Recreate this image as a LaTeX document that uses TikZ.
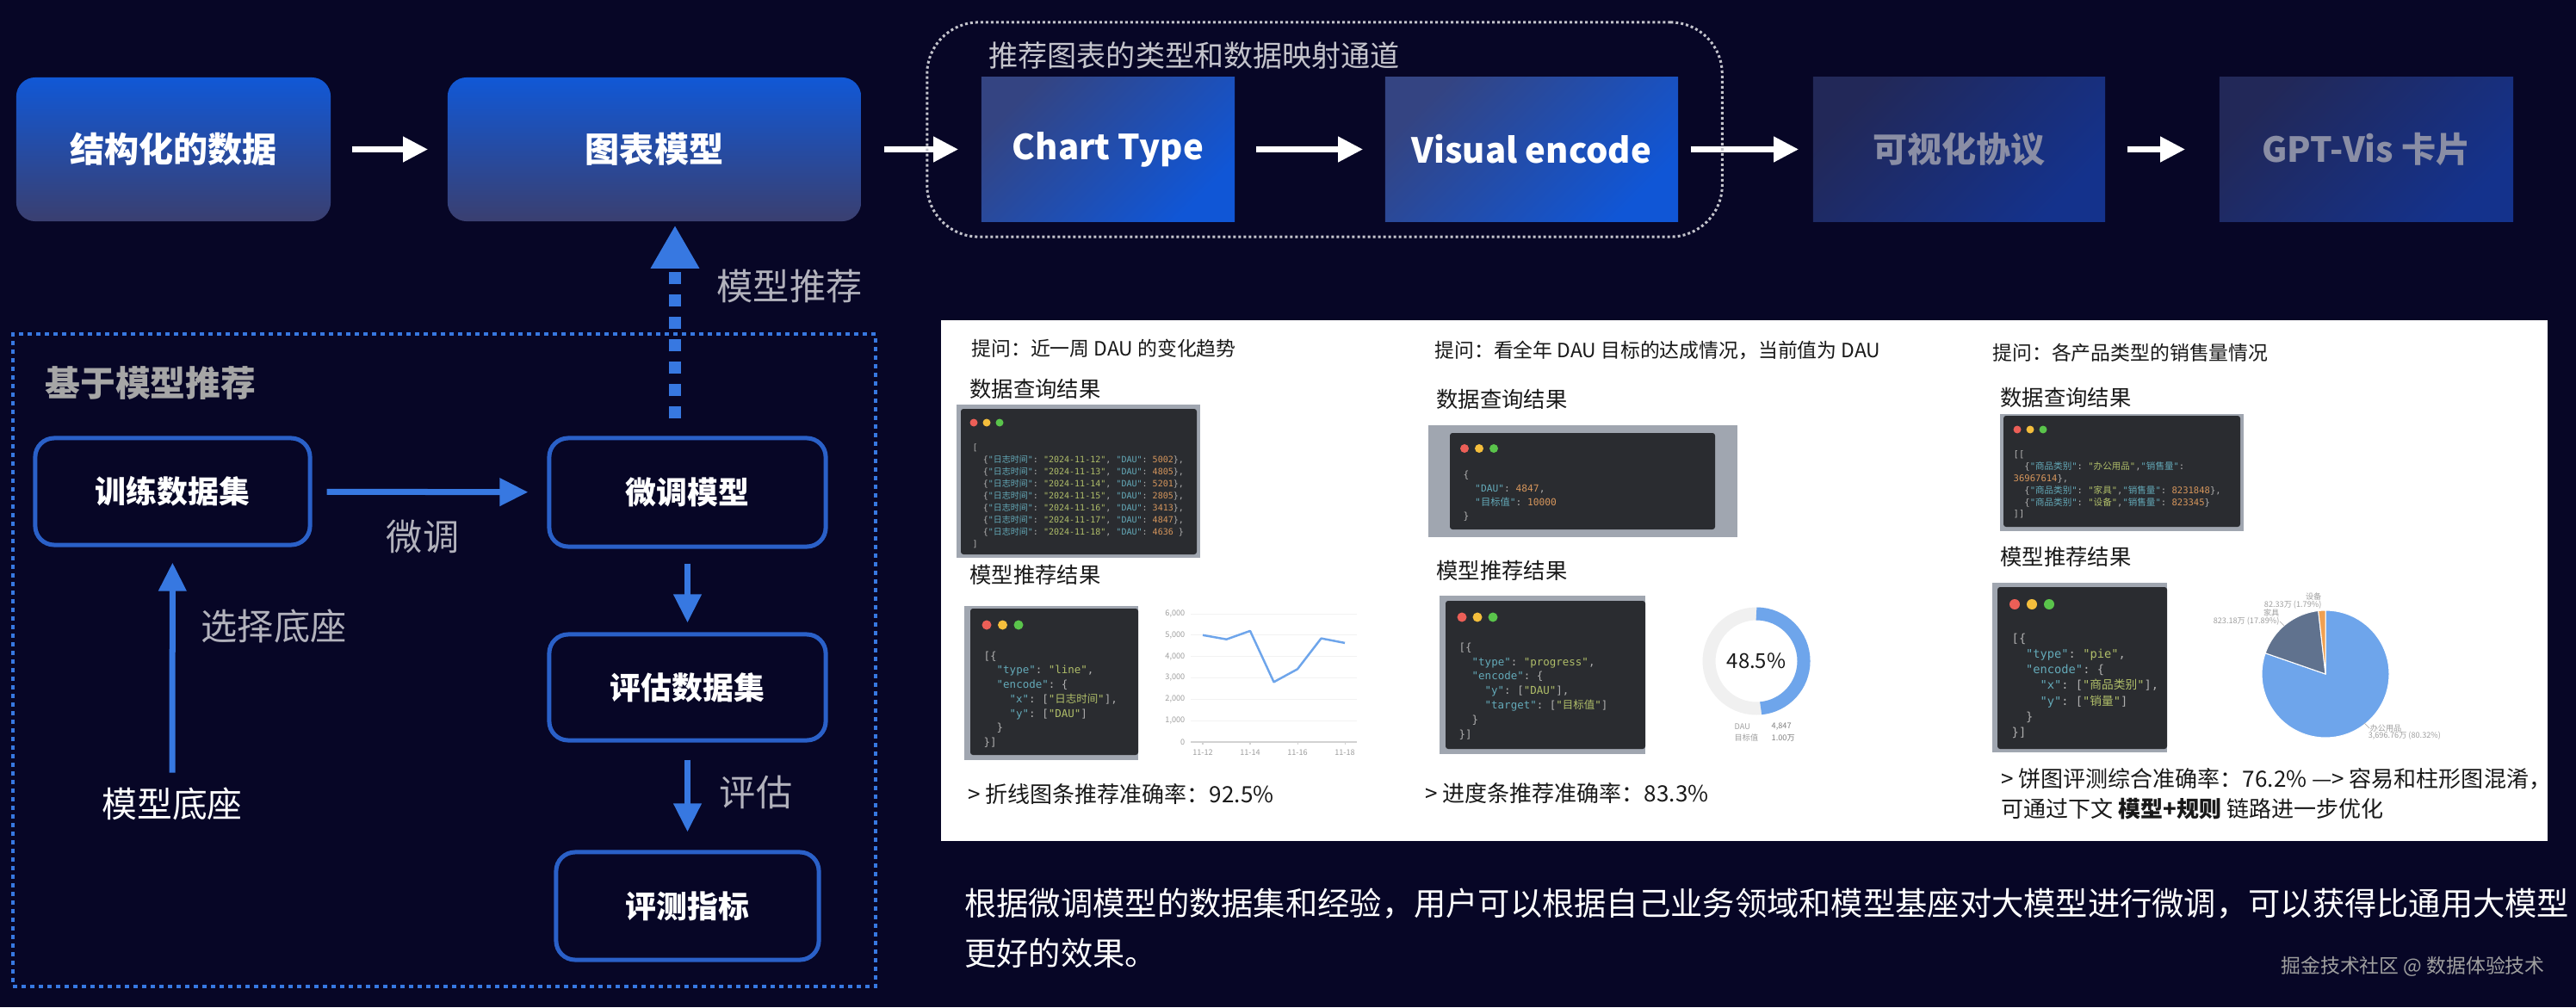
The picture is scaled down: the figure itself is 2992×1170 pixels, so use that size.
\documentclass[tikz,border=0pt]{standalone}
\usepackage{fontspec}
\setmainfont{Noto Sans CJK SC}
\setmonofont{DejaVu Sans Mono}
\newfontfamily\cjk{Noto Sans CJK SC}
\usepackage{tikz}
\usetikzlibrary{arrows.meta, positioning, calc}

\definecolor{bgc}{RGB}{7,6,38}
\definecolor{boxtop}{RGB}{17,88,214}
\definecolor{boxbot}{RGB}{58,63,112}
\definecolor{enclite}{RGB}{52,68,130}
\definecolor{encdeep}{RGB}{16,86,214}
\definecolor{dimlite}{RGB}{34,40,88}
\definecolor{dimdeep}{RGB}{20,50,140}
\definecolor{dimtxt}{RGB}{138,142,165}
\definecolor{bluel}{RGB}{55,120,225}
\definecolor{edgeb}{RGB}{42,96,200}
\definecolor{lblg}{RGB}{178,178,188}
\definecolor{grpt}{RGB}{196,196,204}
\definecolor{winbg}{RGB}{42,44,48}
\definecolor{winfr}{RGB}{160,166,176}
\definecolor{wred}{RGB}{236,95,87}
\definecolor{wyel}{RGB}{244,190,60}
\definecolor{wgrn}{RGB}{90,196,75}
\definecolor{cpun}{RGB}{175,175,175}
\definecolor{ckey}{RGB}{100,170,185}
\definecolor{cstr}{RGB}{176,190,105}
\definecolor{cnum}{RGB}{214,150,92}
\definecolor{chartb}{RGB}{110,165,235}
\definecolor{pieg}{RGB}{96,114,142}
\definecolor{pieo}{RGB}{240,160,80}
\definecolor{ptxt}{RGB}{25,25,25}

\newcommand{\fsz}[2]{\fontsize{#1}{#2}\selectfont}
\newcommand{\jk}[1]{\textcolor{ckey}{#1}}
\newcommand{\js}[1]{\textcolor{cstr}{#1}}
\newcommand{\jn}[1]{\textcolor{cnum}{#1}}
\newcommand{\codeind}{\hspace*{1.2em}}
\newcommand{\dline}[2]{\codeind\{\jk{"{\cjk 日志时间}"}: \js{"#1"}, \jk{"DAU"}: \jn{#2}\}}

\begin{document}
\begin{tikzpicture}[
    x=0.01cm, y=-0.01cm,
    topbox/.style={rounded corners=0.22cm, minimum height=1.67cm, text=white,
                   top color=boxtop, bottom color=boxbot,
                   font=\bfseries\fsz{11.4pt}{13pt}},
    encbox/.style={minimum height=1.67cm, text=white,
                   top color=enclite, bottom color=encdeep, shading angle=45,
                   font=\bfseries\fsz{11.4pt}{13pt}},
    dimbox/.style={encbox, top color=dimlite, bottom color=dimdeep, shading angle=45,
                   text=dimtxt},
    stepbox/.style={draw=edgeb, line width=0.05cm, rounded corners=0.22cm, fill=bgc,
                    text=white, font=\bfseries\fsz{10.2pt}{12pt}},
    lbl/.style={text=lblg, font=\fsz{12pt}{14pt}},
    arrw/.style={-{Triangle[length=0.29cm, width=0.28cm]}, white, line width=0.07cm},
    arrb/.style={-{Triangle[length=0.33cm, width=0.31cm]}, bluel, line width=0.07cm},
    dotarr/.style={-{Triangle[length=0.5cm, width=0.53cm]}, bluel, line width=0.14cm,
                   dash pattern=on 0.14cm off 0.12cm},
    phead/.style={text=ptxt, anchor=west, font=\fsz{7.2pt}{9pt}},
    pask/.style={text=ptxt, anchor=west, font=\fsz{6.5pt}{8pt}},
    pacc/.style={text=ptxt, anchor=west, font=\fsz{7.4pt}{9pt}},
    code/.style={anchor=north west, inner sep=0pt, align=left, text=cpun},
    tiny/.style={text=gray!75, inner sep=0pt, font=\fsz{2.6pt}{3pt}},
  ]
  \useasboundingbox (0,0) rectangle (2992,1170);
  \fill[bgc] (0,0) rectangle (2992,1170);

  % top pipeline
  \node[topbox, minimum width=3.65cm] (data) at (201.5,173.5) {结构化的数据};
  \node[topbox, minimum width=4.8cm] (model) at (760,173.5) {图表模型};
  \node[encbox, minimum width=2.94cm] (ctype) at (1287,173.5) {Chart Type};
  \node[encbox, minimum width=3.4cm] (venc) at (1779,173.5) {Visual encode};
  \node[dimbox, minimum width=3.39cm] (proto) at (2275.5,173.5) {可视化协议};
  \node[dimbox, minimum width=3.41cm] (card) at (2748.5,173.5) {GPT-Vis 卡片};
  \draw[arrw, shorten <=0.24cm, shorten >=0.22cm] (data) -- (model);
  \draw[arrw, shorten <=0.26cm, shorten >=0.26cm] (model) -- (ctype);
  \draw[arrw, shorten <=0.24cm, shorten >=0.25cm] (ctype) -- (venc);
  \draw[arrw, shorten <=0.14cm, shorten >=0.16cm] (venc) -- (proto);
  \draw[arrw, shorten <=0.25cm, shorten >=0.39cm] (proto) -- (card);
  \node[draw=grpt, line width=0.03cm, dash pattern=on 0.03cm off 0.03cm,
        rounded corners=0.6cm, minimum width=9.23cm, minimum height=2.49cm]
    (grp) at (1538.5,150.5) {};
  \node[anchor=west, text=grpt, font=\fsz{9.7pt}{11pt}] (grptitle) at (1136,65)
    {推荐图表的类型和数据映射通道};

  % fine-tuning block
  \node[draw=bluel, line width=0.04cm, dash pattern=on 0.05cm off 0.05cm,
        minimum width=10.02cm, minimum height=7.58cm] (ftgrp) at (516,767) {};
  \node[anchor=west, text=gray!70, font=\bfseries\fsz{11.6pt}{13pt}] (fttitle) at (40,445)
    {基于模型推荐};
  \node[stepbox, minimum width=3.19cm, minimum height=1.24cm] (train) at (200.5,571) {训练数据集};
  \node[stepbox, minimum width=3.21cm, minimum height=1.26cm] (ft) at (798.5,572) {微调模型};
  \node[stepbox, minimum width=3.21cm, minimum height=1.23cm] (evalset) at (798.5,798.5) {评估数据集};
  \node[stepbox, minimum width=3.05cm, minimum height=1.25cm] (metric) at (798.5,1052.5) {评测指标};
  \node[text=white, font=\fsz{11.6pt}{13pt}] (base) at (200,934) {模型底座};
  \draw[arrb, shorten <=0.17cm, shorten >=0.22cm] (train) -- (ft);
  \draw[arrb, shorten <=0.17cm, shorten >=0.11cm] (ft) -- (evalset);
  \draw[arrb, shorten <=0.2cm, shorten >=0.21cm] (evalset) -- (metric);
  \draw[arrb, shorten <=0.05cm, shorten >=0.18cm] (base) -- (train);
  \draw[dotarr, shorten <=0.2cm, shorten >=0.04cm]
    ([xshift=-0.145cm]ft.north) -- ([xshift=-0.145cm]ft.north |- model.south);
  \node[lbl] (lrec) at (917,332) {模型推荐};
  \node[lbl] (ltune) at (491,623) {微调};
  \node[lbl] (lpick) at (318,727) {选择底座};
  \node[lbl] (leval) at (878,920) {评估};

  % examples panel
  \fill[white] (1093,372) rectangle (2959,977);

  % column 1: line chart
  \node[pask] (ask1) at (1116,405) {提问：近一周 DAU 的变化趋势};
  \node[phead] (qh1) at (1114,452) {数据查询结果};
  \fill[winfr] (1111,470) rectangle (1394,648);
  \fill[winbg, rounded corners=0.03cm] (1116,475) rectangle (1390,644);
  \foreach \c [count=\i from 0] in {wred, wyel, wgrn}
    \fill[\c] (1131+15*\i,491) circle (4.5);
  \node[code, font=\ttfamily\fsz{2.85pt}{3.98pt}] (q1code) at (1129,515) {%
    [\\
    \dline{2024-11-12}{5002},\\
    \dline{2024-11-13}{4805},\\
    \dline{2024-11-14}{5201},\\
    \dline{2024-11-15}{2805},\\
    \dline{2024-11-16}{3413},\\
    \dline{2024-11-17}{4847},\\
    \dline{2024-11-18}{4636 }\\
    ]};
  \node[phead] (rh1) at (1114,668) {模型推荐结果};
  \fill[winfr] (1120,704) rectangle (1322,883);
  \fill[winbg, rounded corners=0.03cm] (1127,707) rectangle (1322,877);
  \foreach \c [count=\i from 0] in {wred, wyel, wgrn}
    \fill[\c] (1146+18.5*\i,726) circle (5.5);
  \node[code, font=\ttfamily\fsz{3.55pt}{4.75pt}] (r1code) at (1142,756) {%
    [\{\\
    \codeind\jk{"type"}: \js{"line"},\\
    \codeind\jk{"encode"}: \{\\
    \codeind\codeind\jk{"x"}: [\js{"{\cjk 日志时间}"}],\\
    \codeind\codeind\jk{"y"}: [\js{"DAU"}]\\
    \codeind\}\\
    \}]};
  \foreach \v in {1,...,6}
    \draw[gray!10, line width=0.3pt] (1383,862-24.83*\v) -- (1576,862-24.83*\v);
  \draw[gray!35, line width=0.3pt] (1383,862) -- (1576,862);
  \foreach \v/\t in {0/0, 1/{1,000}, 2/{2,000}, 3/{3,000}, 4/{4,000}, 5/{5,000}, 6/{6,000}}
    \node[tiny, anchor=east] (ya\v) at (1377,862-24.83*\v) {\t};
  \foreach \t [count=\i from 0] in {11-12, 11-14, 11-16, 11-18} {
    \draw[gray!35, line width=0.3pt] (1397+55*\i,862) -- (1397+55*\i,865);
    \node[tiny] (xa\i) at (1397+55*\i,874) {\t};}
  \draw[chartb, line width=0.7pt, line join=round] (1397,737.8) -- (1424.5,742.7)
    -- (1452,732.9) -- (1479.5,792.3) -- (1507,777.3) -- (1534.5,741.6) -- (1562,746.9);
  \node[pacc] (acc1) at (1112,923) {> 折线图条推荐准确率：92.5\%};

  % column 2: progress
  \node[pask] (ask2) at (1654,407) {提问：看全年 DAU 目标的达成情况，当前值为 DAU};
  \node[phead] (qh2) at (1656,464) {数据查询结果};
  \fill[winfr] (1659,494) rectangle (2018,624);
  \fill[winbg, rounded corners=0.03cm] (1684,503) rectangle (1992,615);
  \foreach \c [count=\i from 0] in {wred, wyel, wgrn}
    \fill[\c] (1701+17*\i,521) circle (5);
  \node[code, font=\ttfamily\fsz{3.2pt}{4.55pt}] (q2code) at (1699,546) {%
    \{\\
    \codeind\jk{"DAU"}: \jn{4847},\\
    \codeind\jk{"{\cjk 目标值}"}: \jn{10000}\\
    \}};
  \node[phead] (rh2) at (1656,663) {模型推荐结果};
  \fill[winfr] (1672,692) rectangle (1911,876);
  \fill[winbg, rounded corners=0.03cm] (1679,698) rectangle (1911,870);
  \foreach \c [count=\i from 0] in {wred, wyel, wgrn}
    \fill[\c] (1698+18*\i,717) circle (5.5);
  \node[code, font=\ttfamily\fsz{3.55pt}{4.8pt}] (r2code) at (1694,746) {%
    [\{\\
    \codeind\jk{"type"}: \js{"progress"},\\
    \codeind\jk{"encode"}: \{\\
    \codeind\codeind\jk{"y"}: [\js{"DAU"}],\\
    \codeind\codeind\jk{"target"}: [\js{"{\cjk 目标值}"}]\\
    \codeind\}\\
    \}]};
  \begin{scope}[shift={(2040,768)}, yscale=-1]
    \draw[gray!12, line width=0.15cm] (0,0) circle (55);
    \draw[chartb, line width=0.15cm] (90:55) arc[start angle=90, end angle=-84.6, radius=55];
  \end{scope}
  \node[text=ptxt, font=\fsz{6.8pt}{8pt}] (pct) at (2040,768) {48.5\%};
  \node[tiny, anchor=west] (lg1) at (2014,844) {DAU};
  \node[tiny, anchor=west, text=gray] (lg2) at (2057,844) {4,847};
  \node[tiny, anchor=west] (lg3) at (2014,857) {目标值};
  \node[tiny, anchor=west, text=gray] (lg4) at (2057,857) {1.00万};
  \node[pacc] (acc2) at (1643,922) {> 进度条推荐准确率：83.3\%};

  % column 3: pie
  \node[pask] (ask3) at (2302,410) {提问：各产品类型的销售量情况};
  \node[phead] (qh3) at (2311,462) {数据查询结果};
  \fill[winfr] (2323,481) rectangle (2606,617);
  \fill[winbg, rounded corners=0.03cm] (2327,483) rectangle (2602,612);
  \foreach \c [count=\i from 0] in {wred, wyel, wgrn}
    \fill[\c] (2343+15*\i,499) circle (4.5);
  \node[code, font=\ttfamily\fsz{3pt}{3.93pt}] (q3code) at (2338,523) {%
    [[\\
    \codeind\{\jk{"{\cjk 商品类别}"}: \js{"{\cjk 办公用品}"},\jk{"{\cjk 销售量}"}:\\
    \jn{36967614}\},\\
    \codeind\{\jk{"{\cjk 商品类别}"}: \js{"{\cjk 家具}"},\jk{"{\cjk 销售量}"}: \jn{8231848}\},\\
    \codeind\{\jk{"{\cjk 商品类别}"}: \js{"{\cjk 设备}"},\jk{"{\cjk 销售量}"}: \jn{823345}\}\\
    ]]};
  \node[phead] (rh3) at (2311,647) {模型推荐结果};
  \fill[winfr] (2314,677) rectangle (2517,874);
  \fill[winbg, rounded corners=0.03cm] (2320,682) rectangle (2517,870);
  \foreach \c [count=\i from 0] in {wred, wyel, wgrn}
    \fill[\c] (2340+20*\i,702) circle (6);
  \node[code, font=\ttfamily\fsz{3.9pt}{5.2pt}] (r3code) at (2336,735) {%
    [\{\\
    \codeind\jk{"type"}: \js{"pie"},\\
    \codeind\jk{"encode"}: \{\\
    \codeind\codeind\jk{"x"}: [\js{"{\cjk 商品类别}"}],\\
    \codeind\codeind\jk{"y"}: [\js{"{\cjk 销量}"}]\\
    \codeind\}\\
    \}]};
  \begin{scope}[shift={(2701,783)}, yscale=-1, draw=white, line width=0.3pt]
    \filldraw[fill=chartb] (0,0) -- (90:74) arc[start angle=90, end angle=-199.15, radius=74] -- cycle;
    \filldraw[fill=pieg] (0,0) -- (160.85:74) arc[start angle=160.85, end angle=96.44, radius=74] -- cycle;
    \filldraw[fill=pieo] (0,0) -- (96.44:74) arc[start angle=96.44, end angle=90, radius=74] -- cycle;
  \end{scope}
  \node[tiny, anchor=east] (pl1) at (2697,693) {设备};
  \node[tiny, anchor=east] (pl2) at (2697,703) {82.33万 (1.79\%)};
  \node[tiny, anchor=east] (pl3) at (2648,712) {家具};
  \node[tiny, anchor=east] (pl4) at (2648,722) {823.18万 (17.89\%)};
  \node[tiny, anchor=west] (pl5) at (2752,846) {办公用品};
  \node[tiny, anchor=west] (pl6) at (2750,855) {3,696.76万 (80.32\%)};
  \draw[gray!60, line width=0.2pt] (pl4.east) -- ++(5,5);
  \draw[gray!60, line width=0.2pt] (pl5.west) -- ++(-6,-6);
  \node[pacc] (acc3) at (2312,905) {> 饼图评测综合准确率：76.2\% —> 容易和柱形图混淆，};
  \node[pacc] (acc3b) at (2312,940) {可通过下文 \textbf{模型+规则} 链路进一步优化};

  % caption
  \node[anchor=west, text=white, font=\fsz{10.6pt}{13pt}] (desc1) at (1108,1050)
    {根据微调模型的数据集和经验，用户可以根据自己业务领域和模型基座对大模型进行微调，可以获得比通用大模型};
  \node[anchor=west, text=white, font=\fsz{10.6pt}{13pt}] (desc2) at (1108,1107) {更好的效果。};
  \node[anchor=east, text=gray!75, font=\fsz{6.5pt}{8pt}] (mark) at (2968,1123)
    {掘金技术社区 @ 数据体验技术};
\end{tikzpicture}
\end{document}
